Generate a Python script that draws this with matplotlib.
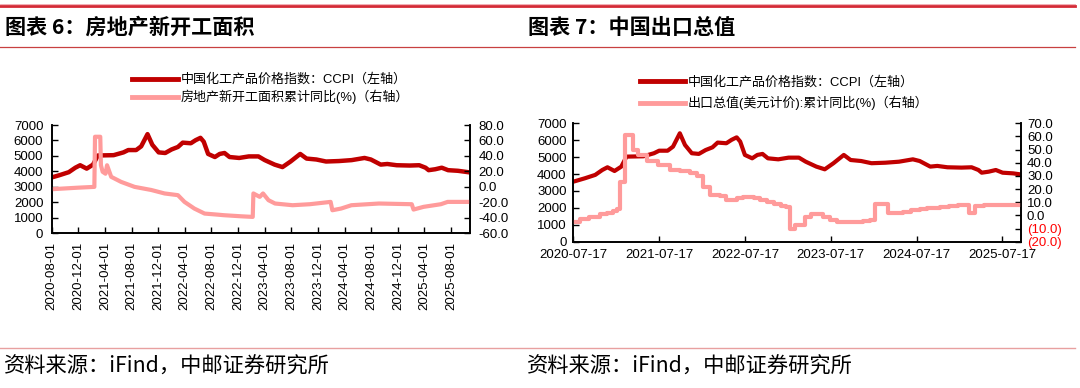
import matplotlib
matplotlib.use("Agg")
import matplotlib.pyplot as plt
import matplotlib.dates as mdates
from matplotlib.lines import Line2D
import pandas as pd
import numpy as np

# ---------------- data ----------------
ccpi_dates = ['2020-07-17','2020-09-04','2020-10-18','2020-11-17','2020-12-09','2021-01-08','2021-02-06',
              '2021-02-28','2021-05-11','2021-06-25','2021-07-17','2021-08-22','2021-09-14','2021-10-13',
              '2021-11-04','2021-12-03','2022-01-02','2022-01-31','2022-03-01','2022-03-23','2022-04-29',
              '2022-05-21','2022-06-12','2022-06-27','2022-07-17','2022-08-17','2022-09-08','2022-09-30',
              '2022-10-23','2022-12-06','2023-01-19','2023-03-04','2023-04-02','2023-05-17','2023-06-22',
              '2023-07-29','2023-09-11','2023-10-10','2023-11-24','2024-01-07','2024-03-06','2024-05-03',
              '2024-07-01','2024-07-30','2024-09-13','2024-10-13','2024-11-25','2025-01-24','2025-03-08',
              '2025-04-06','2025-04-20','2025-05-20','2025-06-19','2025-07-18','2025-09-01','2025-10-28']
ccpi_values = [3550,3750,3950,4240,4400,4180,4440,5030,5050,5230,5380,5380,5620,6410,5720,5230,5190,5420,
               5580,5860,5820,6020,6170,5920,5130,4930,5130,5190,4930,4870,4970,4970,4730,4440,4280,4640,
               5130,4830,4770,4640,4670,4730,4870,4770,4440,4480,4400,4380,4400,4240,4080,4140,4240,4080,
               4040,3930]

starts_dates = ['2020-08-01','2020-10-01','2020-12-01','2021-02-12','2021-02-15','2021-03-11','2021-03-14',
                '2021-03-22','2021-04-04','2021-04-11','2021-04-30','2021-06-14','2021-08-15','2021-10-30',
                '2021-12-30','2022-03-01','2022-03-31','2022-05-15','2022-07-01','2022-08-22','2022-09-27',
                '2022-12-14','2023-02-06','2023-02-09','2023-03-10','2023-03-25','2023-04-19','2023-05-19',
                '2023-08-07','2023-10-25','2024-01-28','2024-02-05','2024-03-16','2024-05-02','2024-09-05',
                '2025-02-02','2025-02-10','2025-03-28','2025-06-15','2025-07-16','2025-10-28']
starts_values = [-3.0,-2.0,-1.0,0.0,64.8,64.8,28.0,19.5,17.0,28.0,13.0,6.5,0.0,-4.0,-8.5,-10.7,-19.4,-28.0,
                 -34.5,-35.7,-36.6,-38.0,-38.8,-8.5,-12.9,-8.5,-17.2,-21.5,-23.7,-22.4,-19.4,-30.2,-28.0,
                 -23.7,-21.5,-22.4,-29.3,-25.8,-22.4,-19.4,-19.4]

export_dates = ['2020-07-17','2020-08-14','2020-09-20','2020-11-08','2020-12-05','2021-01-02','2021-01-20',
                '2021-02-01','2021-02-23','2021-03-26','2021-04-17','2021-05-25','2021-07-11','2021-09-01',
                '2021-10-15','2021-11-26','2021-12-25','2022-01-20','2022-02-20','2022-04-01','2022-04-29',
                '2022-06-12','2022-07-10','2022-08-23','2022-09-20','2022-10-20','2022-11-20','2022-12-18',
                '2023-01-10','2023-01-25','2023-02-17','2023-03-29','2023-04-26','2023-06-15','2023-07-14',
                '2023-08-12','2023-09-24','2023-12-01','2024-01-01','2024-01-23','2024-03-19','2024-05-21',
                '2024-06-25','2024-07-31','2024-09-01','2024-10-26','2024-12-01','2025-01-10','2025-02-23',
                '2025-03-23','2025-05-01','2025-10-28']
export_values = [-4.8,-2.7,-1.2,0.8,2.0,3.3,5.0,25.6,61.0,49.7,46.0,41.4,38.3,34.5,33.5,32.0,30.0,21.8,15.5,
                 14.5,12.0,13.5,14.0,12.9,12.0,10.4,9.0,7.4,6.0,-10.0,-7.0,-1.0,1.0,-1.0,-3.5,-4.8,-5.2,-4.5,
                 -3.5,8.8,2.0,2.8,3.8,4.9,5.5,6.4,7.0,7.6,2.0,7.2,7.8,7.8]

left_xticks = ['2020-08-01','2020-12-01','2021-04-01','2021-08-01','2021-12-01','2022-04-01','2022-08-01',
               '2022-12-01','2023-04-01','2023-08-01','2023-12-01','2024-04-01','2024-08-01','2024-12-01',
               '2025-04-01','2025-08-01']
right_xticks = ['2020-07-17','2021-07-17','2022-07-17','2023-07-17','2024-07-17','2025-07-17']

title_left = "图表 6：房地产新开工面积"
title_right = "图表 7：中国出口总值"
source_text = "资料来源：iFind，中邮证券研究所"
lab_ccpi = "中国化工产品价格指数：CCPI（左轴）"
lab_starts = "房地产新开工面积累计同比(%)（右轴）"
lab_export = "出口总值(美元计价):累计同比(%)（右轴）"

# ---------------- style ----------------
DARK = '#C00000'
PINK = '#FF9B9B'
LAT = ['Liberation Sans', 'Noto Sans CJK SC', 'DejaVu Sans']
CJK = ['Noto Sans CJK SC', 'DejaVu Sans']
plt.rcParams['font.family'] = LAT

W, H = 1080, 388
fig = plt.figure(figsize=(W / 100, H / 100), dpi=100)

def fx(px):
    return px / W

def fy(py):
    return 1 - py / H

# decorative lines
fig.add_artist(Line2D([0, fx(1075)], [fy(5.5), fy(5.5)], color='#D42A36', lw=2.0))
fig.add_artist(Line2D([0, fx(1075)], [fy(3.5), fy(3.5)], color='#F0A0A8', lw=0.6))
fig.add_artist(Line2D([0, fx(1075)], [fy(47), fy(47)], color='#C84040', lw=0.9))
fig.add_artist(Line2D([0, fx(1075)], [fy(347.5), fy(347.5)], color='#E8A0A0', lw=1.0))

fig.text(fx(5), fy(27), title_left, family=CJK, fontsize=15.2, weight='bold', va='center', ha='left')
fig.text(fx(528), fy(27), title_right, family=CJK, fontsize=15.2, weight='bold', va='center', ha='left')
fig.text(fx(4), fy(367), source_text, family=CJK, fontsize=15.3, va='center', ha='left')
fig.text(fx(527), fy(367), source_text, family=CJK, fontsize=15.3, va='center', ha='left')

TFS = 9.5

def style_axes(ax, ax2):
    for a in (ax, ax2):
        a.spines['top'].set_visible(False)
        for s in ('left', 'right', 'bottom'):
            a.spines[s].set_linewidth(1.2)
        a.set_facecolor('none')
    ax.tick_params(axis='both', direction='in', length=4, width=1.0, labelsize=TFS)
    ax2.tick_params(axis='y', direction='in', length=4, width=1.0, labelsize=TFS)

# ---------------- left chart ----------------
ax1 = fig.add_axes([fx(51.7), fy(233.3), fx(470.4 - 51.7), (233.3 - 125) / H])
ax1b = ax1.twinx()
d_ccpi = pd.to_datetime(ccpi_dates)
d_starts = pd.to_datetime(starts_dates)
ax1.plot(d_ccpi, ccpi_values, color=DARK, lw=3.2, solid_joinstyle='round')
ax1b.plot(d_starts, starts_values, color=PINK, lw=3.0)
ax1.set_xlim(pd.Timestamp('2020-08-01'), pd.Timestamp('2025-10-28'))
ax1.set_ylim(0, 7000)
ax1.set_yticks(np.arange(0, 7001, 1000))
ax1b.set_ylim(-60, 80)
ax1b.set_yticks(np.arange(-60, 81, 20))
ax1b.yaxis.set_major_formatter(matplotlib.ticker.FuncFormatter(lambda v, p: f"{v:.1f}"))
ax1.set_xticks(pd.to_datetime(left_xticks))
ax1.xaxis.set_major_formatter(mdates.DateFormatter('%Y-%m-%d'))
style_axes(ax1, ax1b)
ax1.tick_params(axis='x', labelrotation=90, pad=6)
ax1.tick_params(axis='y', pad=6)
ax1b.tick_params(axis='y', pad=6)

h1 = [Line2D([], [], color=DARK, lw=3.5), Line2D([], [], color=PINK, lw=3.5)]
fig.legend(h1, [lab_ccpi, lab_starts], loc='upper left',
           bbox_to_anchor=(fx(132), fy(73.5)), frameon=False, fontsize=9.4,
           handlelength=3.5, handletextpad=0.2, labelspacing=0.3, borderpad=0, borderaxespad=0)

# ---------------- right chart ----------------
ax2 = fig.add_axes([fx(573.4), fy(241.7), fx(1021.4 - 573.4), (241.7 - 123.3) / H])
ax2b = ax2.twinx()
d_export = pd.to_datetime(export_dates)
ax2.plot(d_ccpi, ccpi_values, color=DARK, lw=3.0, solid_joinstyle='round')
ax2b.plot(d_export, export_values, color=PINK, lw=3.0, drawstyle='steps-post')
ax2.set_xlim(pd.Timestamp('2020-07-17'), pd.Timestamp('2025-10-06'))
ax2.set_ylim(0, 7000)
ax2.set_yticks(np.arange(0, 7001, 1000))
ax2b.set_ylim(-20, 70)
ax2b.set_yticks(np.arange(-20, 71, 10))

def paren_fmt(v, p):
    if v < 0:
        return f"({abs(v):.1f})"
    return f"{v:.1f}"

ax2b.yaxis.set_major_formatter(matplotlib.ticker.FuncFormatter(paren_fmt))
ax2.set_xticks(pd.to_datetime(right_xticks))
ax2.xaxis.set_major_formatter(mdates.DateFormatter('%Y-%m-%d'))
style_axes(ax2, ax2b)
ax2.tick_params(axis='x', pad=5)
ax2.tick_params(axis='y', pad=5)
ax2b.tick_params(axis='y', pad=4)
fig.canvas.draw()
for t, v in zip(ax2b.get_yticklabels(), ax2b.get_yticks()):
    if v < 0:
        t.set_color('#FF0000')

h2 = [Line2D([], [], color=DARK, lw=3.5), Line2D([], [], color=PINK, lw=3.5)]
fig.legend(h2, [lab_ccpi, lab_export], loc='upper left',
           bbox_to_anchor=(fx(639.5), fy(76)), frameon=False, fontsize=9.4,
           handlelength=3.5, handletextpad=0.2, labelspacing=0.55, borderpad=0, borderaxespad=0)

fig.savefig('out.png', dpi=100)
